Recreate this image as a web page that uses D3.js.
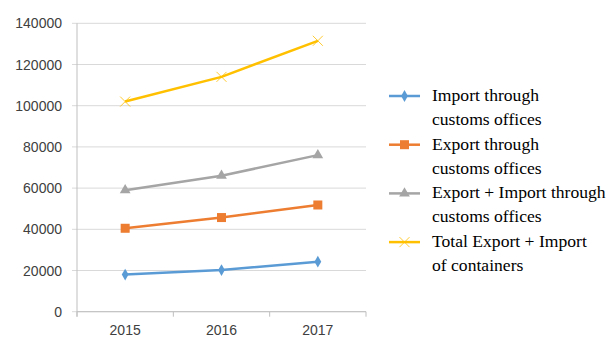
<!DOCTYPE html>
<html><head><meta charset="utf-8">
<script src="https://cdn.jsdelivr.net/npm/d3@7"></script>
<style>body{margin:0;background:#fff}svg{display:block}</style>
</head><body>
<svg id="c" width="609" height="338"></svg>
<script>
const years = ["2015","2016","2017"];
const importCustoms = [18000, 20200, 24300];
const exportCustoms = [40500, 45700, 51800];
const exportImportCustoms = [59000, 66000, 76000];
const totalContainers = [102000, 114000, 131500];
const yTicks = [0,20000,40000,60000,80000,100000,120000,140000];
const seriesNames = [["Import through","customs offices"],["Export through","customs offices"],["Export + Import through","customs offices"],["Total Export + Import","of containers"]];

const series = [
  {vals: importCustoms, color:"#5B9BD5", marker:"diamond"},
  {vals: exportCustoms, color:"#ED7D31", marker:"square"},
  {vals: exportImportCustoms, color:"#A5A5A5", marker:"triangle"},
  {vals: totalContainers, color:"#FFC000", marker:"x"}
];

const svg = d3.select("#c");
const L=77, R=366, T=23.3, B=311.7;
const x = d3.scaleBand().domain(years).range([L,R]);
const y = d3.scaleLinear().domain([0,140000]).range([B,T]);

svg.append("g").selectAll("line").data(yTicks).join("line")
  .attr("x1",L-5).attr("x2",R).attr("y1",d=>y(d)).attr("y2",d=>y(d))
  .attr("stroke","#d9d9d9").attr("stroke-width",1);
svg.append("line").attr("x1",L).attr("x2",L).attr("y1",T).attr("y2",B+5).attr("stroke","#bfbfbf");
const bounds = years.map(d=>x(d)).concat([R]);
svg.append("g").selectAll("line").data(bounds).join("line")
  .attr("x1",d=>d).attr("x2",d=>d).attr("y1",B).attr("y2",B+5).attr("stroke","#bfbfbf");
svg.append("line").attr("x1",L).attr("x2",R).attr("y1",B).attr("y2",B).attr("stroke","#bfbfbf");

svg.append("g").selectAll("text").data(yTicks).join("text")
  .attr("x",62).attr("y",d=>y(d)+5).attr("text-anchor","end")
  .attr("font-family","Liberation Sans, Arial, sans-serif").attr("font-size",14).attr("fill","#404040")
  .text(d=>d);
svg.append("g").selectAll("text").data(years).join("text")
  .attr("x",d=>x(d)+x.bandwidth()/2).attr("y",335).attr("text-anchor","middle")
  .attr("font-family","Liberation Sans, Arial, sans-serif").attr("font-size",14).attr("fill","#404040")
  .text(d=>d);

function marker(g, type, color, cx, cy){
  if(type==="diamond"){
    g.append("path").attr("d",d3.symbol(d3.symbolDiamond,40)()).attr("transform",`translate(${cx},${cy})`).attr("fill",color);
  } else if(type==="square"){
    g.append("rect").attr("x",cx-4.5).attr("y",cy-4.5).attr("width",9).attr("height",9).attr("fill",color);
  } else if(type==="triangle"){
    g.append("path").attr("d",d3.symbol(d3.symbolTriangle,50)()).attr("transform",`translate(${cx},${cy})`).attr("fill",color);
  } else {
    g.append("path").attr("d",`M${cx-5},${cy-5}L${cx+5},${cy+5}M${cx-5},${cy+5}L${cx+5},${cy-5}`).attr("stroke",color).attr("stroke-width",1).attr("opacity",0.8);
  }
}

const line = d3.line().x((d,i)=>x(years[i])+x.bandwidth()/2).y(d=>y(d));
series.forEach(s=>{
  const g = svg.append("g");
  g.append("path").attr("d",line(s.vals)).attr("fill","none").attr("stroke",s.color).attr("stroke-width",2.5);
  s.vals.forEach((v,i)=>marker(g,s.marker,s.color,x(years[i])+x.bandwidth()/2,y(v)));
});

const ly0 = 96, lstep = 48.7;
series.forEach((s,i)=>{
  const g = svg.append("g");
  const cy = ly0 + i*lstep;
  g.append("line").attr("x1",389).attr("x2",420).attr("y1",cy).attr("y2",cy).attr("stroke",s.color).attr("stroke-width",2.5);
  marker(g,s.marker,s.color,404.5,cy);
  const t = g.append("text").attr("x",432).attr("y",cy+5).attr("font-family","Liberation Serif, Times New Roman, serif").attr("font-size",17.6).attr("fill","#000");
  seriesNames[i].forEach((ln,j)=>t.append("tspan").attr("x",432).attr("dy",j?24:0).text(ln));
});
</script>
</body></html>
